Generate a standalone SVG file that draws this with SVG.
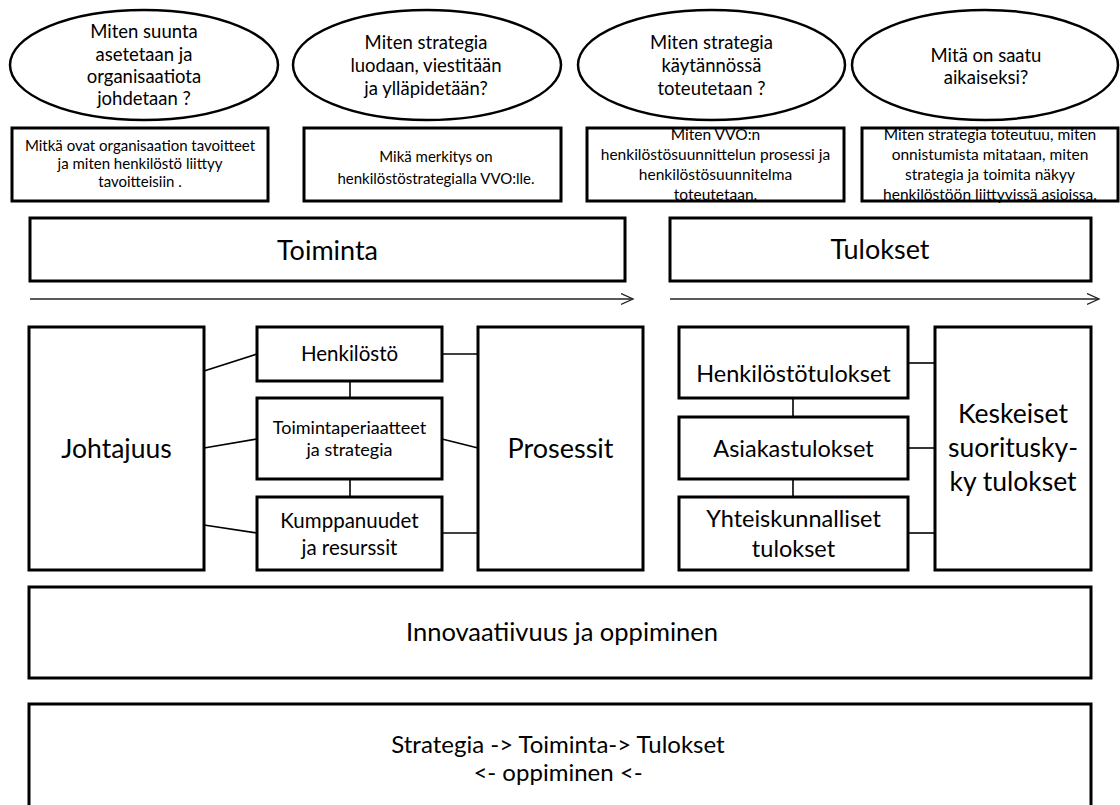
<svg xmlns="http://www.w3.org/2000/svg" width="1120" height="805" viewBox="0 0 1120 805">
<style>
text{font-family:Lato,"Liberation Sans",sans-serif;fill:#000;text-anchor:middle}
.b{fill:#fff;stroke:#000;stroke-width:3}
.bo{fill:none;stroke:#000;stroke-width:3}
.e{fill:#fff;stroke:#000;stroke-width:2.5}
.c{stroke:#000;stroke-width:1.6;fill:none}
.a{stroke:#222;stroke-width:1.3;fill:none}
.q{font-size:18.5px}
.s{font-size:15px}
.s2{font-size:15.5px}
.l{font-size:27px}
.k{font-size:26.5px}
.m{font-size:20.5px}
.n{font-size:23.5px}
.g{font-size:24px}
</style>
<defs>
<marker id="ah" markerWidth="14" markerHeight="14" refX="12" refY="6" orient="auto" markerUnits="userSpaceOnUse">
<path d="M0,0.5 L12,6 L0,11.5" fill="none" stroke="#222" stroke-width="1.3"/>
</marker>
</defs>
<rect width="1120" height="805" fill="#fff"/>
<g id="q1"><ellipse class="e" cx="144" cy="65" rx="134" ry="55"/>
<text class="q"><tspan x="144" y="38">Miten suunta</tspan><tspan x="144" y="61">asetetaan ja</tspan><tspan x="144" y="83">organisaatiota</tspan><tspan x="144" y="105">johdetaan ?</tspan></text></g>
<g id="q2"><ellipse class="e" cx="427" cy="65" rx="134" ry="55"/>
<text class="q"><tspan x="426" y="49">Miten strategia</tspan><tspan x="426" y="72">luodaan, viestitään</tspan><tspan x="426" y="95">ja ylläpidetään?</tspan></text></g>
<g id="q3"><ellipse class="e" cx="711.5" cy="65" rx="133.5" ry="55"/>
<text class="q"><tspan x="711.5" y="49">Miten strategia</tspan><tspan x="711.5" y="72">käytännössä</tspan><tspan x="711.5" y="95">toteutetaan ?</tspan></text></g>
<g id="q4"><ellipse class="e" cx="985" cy="65" rx="133" ry="55"/>
<text class="q"><tspan x="986" y="62">Mitä on saatu</tspan><tspan x="986" y="84">aikaiseksi?</tspan></text></g>
<g id="d1"><rect class="b" x="12" y="128" width="256" height="73"/>
<text class="s"><tspan x="140" y="151">Mitkä ovat organisaation tavoitteet</tspan><tspan x="140" y="169">ja miten henkilöstö liittyy</tspan><tspan x="140" y="187">tavoitteisiin .</tspan></text></g>
<g id="d2"><rect class="b" x="304" y="128" width="257" height="73"/>
<text class="s"><tspan x="436" y="162">Mikä merkitys on</tspan><tspan x="436" y="184">henkilöstöstrategialla VVO:lle.</tspan></text></g>
<g id="d3">
<text class="s2"><tspan x="715.5" y="140">Miten VVO:n</tspan><tspan x="715.5" y="160">henkilöstösuunnittelun prosessi ja</tspan><tspan x="715.5" y="180">henkilöstösuunnitelma</tspan><tspan x="715.5" y="200">toteutetaan.</tspan></text>
<rect class="bo" x="587" y="128" width="257" height="73"/></g>
<g id="d4">
<text class="s2"><tspan x="990" y="140">Miten strategia toteutuu, miten</tspan><tspan x="990" y="160">onnistumista mitataan, miten</tspan><tspan x="990" y="180">strategia ja toimita näkyy</tspan><tspan x="990" y="200">henkilöstöön liittyvissä asioissa.</tspan></text>
<rect class="bo" x="862" y="128" width="256" height="73"/></g>
<g id="toiminta"><rect class="b" x="30" y="218" width="595" height="63"/><text class="l" x="327.5" y="260">Toiminta</text></g>
<g id="tulokset"><rect class="b" x="670" y="218" width="421" height="63"/><text class="l" x="880" y="259">Tulokset</text></g>
<g id="johtajuus"><rect class="b" x="29" y="327" width="175" height="243"/><text class="k" x="116.5" y="458">Johtajuus</text></g>
<g id="henkilosto"><rect class="b" x="257" y="327" width="185" height="54"/><text class="m" x="349.5" y="361">Henkilöstö</text></g>
<g id="toimintaperiaatteet"><rect class="b" x="257" y="398" width="185" height="81"/><text style="font-size:18px"><tspan x="349.5" y="434">Toimintaperiaatteet</tspan><tspan x="349.5" y="456">ja strategia</tspan></text></g>
<g id="kumppanuudet"><rect class="b" x="257" y="497" width="185" height="73"/><text class="m"><tspan x="349.5" y="528">Kumppanuudet</tspan><tspan x="349.5" y="555">ja resurssit</tspan></text></g>
<g id="prosessit"><rect class="b" x="478" y="327" width="165" height="243"/><text class="l" x="560.5" y="458">Prosessit</text></g>
<g id="henkilostotulokset"><rect class="b" x="679" y="327" width="229" height="71"/><text class="n" x="793.5" y="382">Henkilöstötulokset</text></g>
<g id="asiakastulokset"><rect class="b" x="679" y="417" width="229" height="62"/><text class="n" x="793.5" y="457">Asiakastulokset</text></g>
<g id="yhteiskunnalliset"><rect class="b" x="679" y="497" width="229" height="73"/><text class="n"><tspan x="793.5" y="527">Yhteiskunnalliset</tspan><tspan x="793.5" y="557">tulokset</tspan></text></g>
<g id="keskeiset"><rect class="b" x="935" y="327" width="156" height="243"/><text class="k"><tspan x="1013" y="423">Keskeiset</tspan><tspan x="1013" y="457">suoritusky-</tspan><tspan x="1013" y="491">ky tulokset</tspan></text></g>
<g id="innovaatiivuus"><rect class="b" x="29" y="587" width="1062" height="91"/><text style="font-size:25.5px" x="562" y="641">Innovaatiivuus ja oppiminen</text></g>
<g id="strategia"><rect class="b" x="29" y="704" width="1062" height="120"/><text class="g"><tspan x="558" y="753">Strategia -&gt; Toiminta-&gt; Tulokset</tspan><tspan x="558" y="781">&lt;- oppiminen &lt;-</tspan></text></g>
<g id="connectors">
<line class="a" x1="30" y1="299" x2="633" y2="299" marker-end="url(#ah)"/>
<line class="a" x1="670" y1="299" x2="1099" y2="299" marker-end="url(#ah)"/>
<line class="c" x1="204" y1="371" x2="257" y2="354"/>
<line class="c" x1="204" y1="448" x2="257" y2="439"/>
<line class="c" x1="204" y1="525" x2="257" y2="533"/>
<line class="c" x1="442" y1="354" x2="478" y2="354"/>
<line class="c" x1="442" y1="439" x2="478" y2="448"/>
<line class="c" x1="442" y1="533" x2="478" y2="533"/>
<line class="c" x1="350" y1="381" x2="350" y2="398"/>
<line class="c" x1="350" y1="479" x2="350" y2="497"/>
<line class="c" x1="908" y1="363" x2="935" y2="363"/>
<line class="c" x1="908" y1="448" x2="935" y2="448"/>
<line class="c" x1="908" y1="533" x2="935" y2="533"/>
<line class="c" x1="793" y1="398" x2="793" y2="417"/>
<line class="c" x1="793" y1="479" x2="793" y2="497"/>
</g>
</svg>
